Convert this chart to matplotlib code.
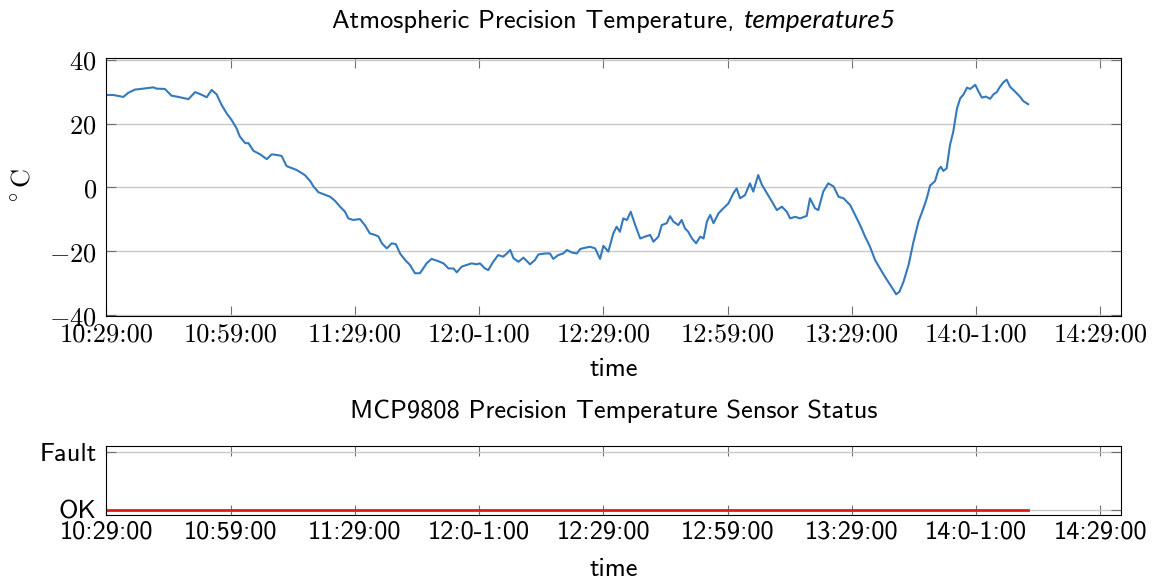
import numpy as np
import matplotlib
matplotlib.use("Agg")
import matplotlib.pyplot as plt
from matplotlib.offsetbox import TextArea, HPacker, AnchoredOffsetbox

plt.rcParams['mathtext.fontset'] = 'cm'

# minutes after 10:29:00 and temperature in degC
t_min = [0, 1.65, 4.07, 5.28, 6.88, 8.9, 11.3, 12.1, 14.1, 15.7, 17.75, 19.8,
         21.4, 22.6, 24.2, 25.4, 26.6, 27.8, 29.0, 30.2, 31.4, 32.2, 33.5, 34.3,
         35.5, 37.1, 38.7, 39.9, 41.1, 42.3, 43.5,
         45.9, 47.9, 49.2, 50.0, 51.2, 52.4, 54.0, 55.2, 56.4, 57.6, 58.4, 59.6,
         61.2, 62.4, 63.6, 64.9, 65.7, 66.5, 67.7, 68.9, 69.9, 70.9, 72.1, 73.3,
         74.5, 75.7, 76.5, 77.3, 78.5, 80.1, 81.4, 82.6, 83.8, 84.6, 85.8, 87.0,
         88.2, 89.4,
         90.2, 91.4, 92.2, 93.4, 94.6, 95.8, 96.7, 97.5, 98.3, 99.5, 100.7, 102.3,
         103.5, 104.3, 105.9, 107.1, 107.9, 109.1, 110.3, 111.2, 112.4, 113.6,
         114.4, 115.6, 116.8, 118.0, 119.2, 120.0, 121.2, 122.4, 123.2, 124.0,
         124.8, 125.7, 126.6, 127.7, 128.9, 130.1, 131.3, 132.1, 133.3, 134.1,
         135.3,
         136.1, 136.9, 138.1, 138.9, 139.7, 140.5, 141.4, 142.4, 143.4, 144.2,
         145.0, 145.8, 146.6, 147.8, 149.0, 150.2, 151.4, 152.2, 153.0, 154.2,
         155.4, 156.2, 157.4, 158.3, 159.5, 160.7, 161.9, 163.1, 164.3, 165.1,
         166.3, 167.5, 169.1, 169.9, 171.1, 171.9, 173.1, 174.3, 175.6, 176.8,
         178.0, 179.6, 181.2,
         182.0, 183.2, 184.4, 185.6, 186.8, 188.0, 189.3, 190.1, 190.7, 191.5,
         192.5, 193.7, 194.9, 196.1, 197.3, 198.1, 198.9, 200.1, 200.9, 201.5,
         202.1, 202.9, 203.7, 204.5, 205.4, 206.2, 207.0, 207.8, 208.6, 209.8,
         210.6, 211.4, 212.4, 213.4, 214.2, 215.0, 215.8, 216.6, 217.4, 218.2,
         219.4, 220.6, 221.4, 222.6]
temp = [29.0, 29.0, 28.4, 29.7, 30.7, 31.0, 31.4, 31.0, 30.9, 28.8, 28.3, 27.7,
        29.9, 29.3, 28.3, 30.6, 29.2, 25.9, 23.3, 21.2, 18.6, 16.0, 13.9, 13.9,
        11.5, 10.4, 8.9, 10.4, 10.2, 9.9, 6.7,
        5.5, 3.9, 2.0, 0.3, -1.5, -2.1, -2.9, -4.2, -6.0, -7.6, -9.7, -10.2,
        -9.9, -11.8, -14.4, -14.9, -15.4, -17.5, -19.1, -17.5, -17.8, -20.7, -22.7, -24.3,
        -26.9, -26.9, -25.4, -23.8, -22.4, -23.1, -23.8, -25.4, -25.4, -26.6, -24.8, -24.3,
        -23.8, -24.1,
        -23.8, -25.4, -25.9, -23.3, -21.2, -21.7, -20.7, -19.6, -22.2, -23.3, -22.0, -24.1,
        -22.7, -21.0, -20.7, -20.7, -22.4, -21.2, -20.7, -19.6, -20.4, -20.7,
        -19.3, -18.9, -18.6, -19.1, -22.4, -18.3, -20.1, -14.4, -12.3, -13.9,
        -9.7, -10.2, -7.6, -11.8, -16.0, -15.4, -14.9, -17.0, -15.4, -11.8,
        -11.2,
        -9.0, -10.7, -11.8, -10.2, -12.8, -13.9, -16.0, -17.5, -15.4, -16.0,
        -10.7, -8.6, -11.2, -8.1, -6.5, -5.0, -1.8, -0.3, -3.4, -2.4,
        1.3, -1.3, 3.9, 0.8, -1.8, -4.4, -7.1, -6.0, -7.6, -9.7,
        -9.2, -9.7, -8.9, -3.4, -6.5, -7.1, -1.3, 1.3, 0.3, -2.9,
        -3.4, -5.5, -9.7,
        -11.8, -15.4, -18.6, -22.7, -25.4, -28.0, -30.6, -32.2, -33.5, -32.7,
        -29.5, -24.3, -17.0, -10.7, -6.5, -3.4, 0.6, 2.0, 5.5, 6.5,
        5.2, 6.0, 13.3, 17.5, 24.8, 28.0, 29.2, 31.3, 30.9, 32.2,
        30.1, 28.2, 28.5, 27.8, 29.2, 29.9, 31.6, 33.0, 33.8, 31.6,
        30.1, 28.5, 27.1, 26.1]

status_t = [0, 222.6]
status = [0, 0]

tick_min = [0, 30, 60, 90, 120, 150, 180, 210, 240]
tick_lbl = ['10:29:00', '10:59:00', '11:29:00', '12:0-1:00', '12:29:00',
            '12:59:00', '13:29:00', '14:0-1:00', '14:29:00']
ytick_v = [-40, -20, 0, 20, 40]

fs = 19
gridc = '#c8c8c8'
tickc = '#707070'

fig = plt.figure(figsize=(11.56, 5.87), dpi=100)
ax = fig.add_axes([0.0921, 0.4617, 0.8776, 0.44])
ax2 = fig.add_axes([0.0921, 0.1221, 0.8776, 0.1181])

# top: temperature
ax.plot(t_min, temp, color='#3479bb', lw=1.5)
ax.set_xlim(0, 245)
ax.set_ylim(-40.3, 40.7)
ax.set_xticks(tick_min)
ax.set_xticklabels(tick_lbl, family='cmr10', fontsize=fs)
ax.set_yticks(ytick_v)
ax.set_yticklabels(['$%d$' % v for v in ytick_v], fontsize=fs)
ax.yaxis.grid(True, color=gridc, lw=1.0)
ax.tick_params(axis='x', direction='in', top=True, length=7, width=0.8,
               color=tickc, pad=5)
ax.tick_params(axis='y', direction='in', right=True, length=7, width=0.8,
               color=tickc, pad=7)
ax.set_xlabel('time', family='cmss10', fontsize=fs, labelpad=8)
ax.set_ylabel(r'$^\circ\mathrm{C}$', fontsize=fs, labelpad=10)

t1 = TextArea('Atmospheric Precision Temperature, ',
              textprops=dict(family='cmss10', size=fs))
t2 = TextArea('temperature5', textprops=dict(family='Lato', style='italic', size=fs))
box = HPacker(children=[t1, t2], align='baseline', pad=0, sep=0)
title = AnchoredOffsetbox(loc='lower center', child=box, pad=0, borderpad=0,
                          bbox_to_anchor=(0.5, 1.095), bbox_transform=ax.transAxes,
                          frameon=False)
ax.add_artist(title)

# bottom: sensor status
ax2.plot(status_t, status, color='#e3191c', lw=2.0)
ax2.set_xlim(0, 245)
ax2.set_ylim(-0.1, 1.1)
ax2.set_xticks(tick_min)
ax2.set_xticklabels(tick_lbl, family='cmss10', fontsize=fs)
ax2.set_yticks([0, 1])
ax2.set_yticklabels(['OK', 'Fault'], family='cmss10', fontsize=fs)
ax2.yaxis.grid(True, color=gridc, lw=1.0)
ax2.tick_params(axis='x', direction='in', top=True, length=7, width=0.8,
                color=tickc, pad=4)
ax2.tick_params(axis='y', direction='in', right=True, length=7, width=0.8,
                color=tickc, pad=7)
ax2.set_xlabel('time', family='cmss10', fontsize=fs, labelpad=10)
ax2.set_title('MCP9808 Precision Temperature Sensor Status', family='cmss10',
              fontsize=fs, pad=20)

for a in (ax, ax2):
    for s in a.spines.values():
        s.set_linewidth(0.8)
        s.set_color('black')

fig.savefig('out.png', dpi=100)
